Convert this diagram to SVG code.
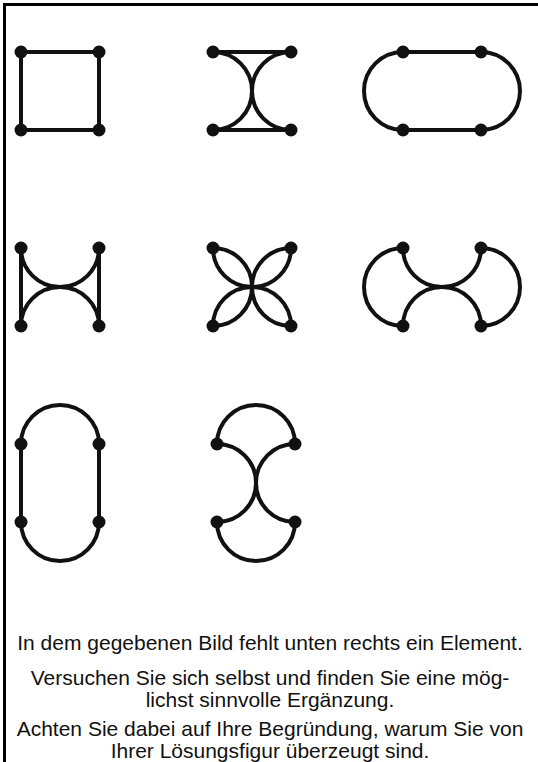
<svg xmlns="http://www.w3.org/2000/svg" width="538" height="762" viewBox="0 0 538 762">
<style>
.s{fill:none;stroke:#111;stroke-width:4;stroke-linecap:round}
.d{fill:#111}
.t{font-family:"Liberation Sans",Arial,sans-serif;font-size:21px;fill:#111;text-anchor:middle}
</style>
<defs>
<g id="dots"><circle class="d" cx="0" cy="0" r="6.5"/><circle class="d" cx="78" cy="0" r="6.5"/><circle class="d" cx="0" cy="78" r="6.5"/><circle class="d" cx="78" cy="78" r="6.5"/></g>
</defs>
<rect width="538" height="762" fill="#fff"/>
<path d="M4.5,762 V4.5 H538" fill="none" stroke="#000" stroke-width="3"/>
<g id="connectors">
<g transform="translate(21,52)"><path class="s" d="M0,0 H78 V78 H0 Z"/></g>
<g transform="translate(213,52)"><path class="s" d="M0,0 H78 M0,78 H78 M0,0 A39,39 0 0 1 0,78 M78,0 A39,39 0 0 0 78,78"/></g>
<g transform="translate(403,52)"><path class="s" d="M0,0 H78 M0,78 H78 M0,0 A39,39 0 0 0 0,78 M78,0 A39,39 0 0 1 78,78"/></g>
<g transform="translate(21,248)"><path class="s" d="M0,0 V78 M78,0 V78 M0,0 A39,39 0 0 0 78,0 M0,78 A39,39 0 0 1 78,78"/></g>
<g transform="translate(213,248)"><path class="s" d="M0,0 A39,39 0 0 1 0,78 M78,0 A39,39 0 0 0 78,78 M0,0 A39,39 0 0 0 78,0 M0,78 A39,39 0 0 1 78,78"/></g>
<g transform="translate(403,248)"><path class="s" d="M0,0 A39,39 0 0 0 0,78 M78,0 A39,39 0 0 1 78,78 M0,0 A39,39 0 0 0 78,0 M0,78 A39,39 0 0 1 78,78"/></g>
<g transform="translate(21,444)"><path class="s" d="M0,0 V78 M78,0 V78 M0,0 A39,39 0 0 1 78,0 M0,78 A39,39 0 0 0 78,78"/></g>
<g transform="translate(217,444)"><path class="s" d="M0,0 A39,39 0 0 1 0,78 M78,0 A39,39 0 0 0 78,78 M0,0 A39,39 0 0 1 78,0 M0,78 A39,39 0 0 0 78,78"/></g>
</g>
<g id="n1"><use href="#dots" x="21" y="52"/></g>
<g id="n2"><use href="#dots" x="213" y="52"/></g>
<g id="n3"><use href="#dots" x="403" y="52"/></g>
<g id="n4"><use href="#dots" x="21" y="248"/></g>
<g id="n5"><use href="#dots" x="213" y="248"/></g>
<g id="n6"><use href="#dots" x="403" y="248"/></g>
<g id="n7"><use href="#dots" x="21" y="444"/></g>
<g id="n8"><use href="#dots" x="217" y="444"/></g>
<g id="caption">
<text class="t" x="270" y="650">In dem gegebenen Bild fehlt unten rechts ein Element.</text>
<text class="t" x="270" y="685">Versuchen Sie sich selbst und finden Sie eine mög-</text>
<text class="t" x="270" y="707">lichst sinnvolle Ergänzung.</text>
<text class="t" x="270" y="736">Achten Sie dabei auf Ihre Begründung, warum Sie von</text>
<text class="t" x="270" y="758">Ihrer Lösungsfigur überzeugt sind.</text>
</g>
</svg>
